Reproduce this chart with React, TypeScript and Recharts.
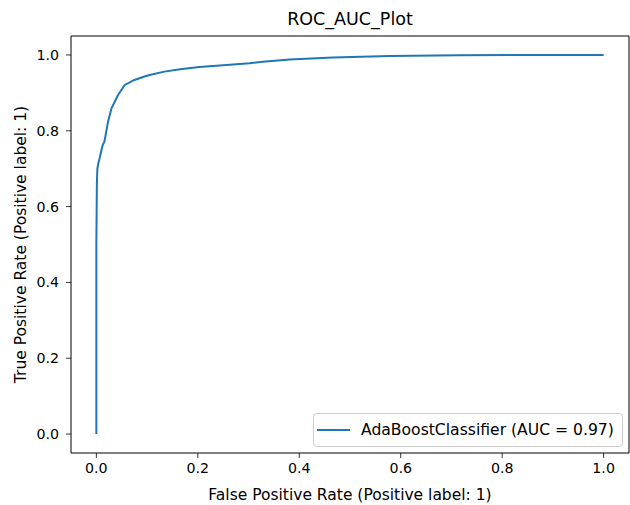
import { LineChart, Line, XAxis, YAxis, Legend, ReferenceArea } from "recharts";

// ROC curve points
const fpr = [
  0, 0, 0.001, 0.002, 0.004, 0.0065, 0.012, 0.016, 0.023, 0.03, 0.043, 0.056, 0.075,
  0.095, 0.105, 0.134, 0.165, 0.203, 0.25, 0.302, 0.328, 0.381, 0.466, 0.578, 0.715,
  0.85, 1.0,
];
const tpr = [
  0, 0.5, 0.66, 0.7, 0.715, 0.728, 0.76, 0.772, 0.824, 0.86, 0.895, 0.921, 0.934,
  0.943, 0.947, 0.956, 0.962, 0.968, 0.973, 0.978, 0.982, 0.988, 0.993, 0.997, 0.999,
  1.0, 1.0,
];
const ticks = [0, 0.2, 0.4, 0.6, 0.8, 1.0];

const seriesName = "AdaBoostClassifier (AUC = 0.97)";
const title = "ROC_AUC_Plot";
const xLabel = "False Positive Rate (Positive label: 1)";
const yLabel = "True Positive Rate (Positive label: 1)";

const data = fpr.map((x, i) => ({ fpr: x, tpr: tpr[i] }));

const FONT = "'DejaVu Sans', sans-serif";
const tickStyle = { fontSize: 14.2, fill: "#000", fontFamily: FONT };
const labelStyle = { fontSize: 15.5, fill: "#000", fontFamily: FONT };

function LegendBox() {
  return (
    <div
      style={{
        boxSizing: "border-box",
        width: 310,
        height: 34,
        border: "1px solid #cccccc",
        borderRadius: 4,
        background: "rgba(255,255,255,0.8)",
        display: "flex",
        alignItems: "center",
        fontFamily: FONT,
        fontSize: 15.6,
        color: "#000",
      }}
    >
      <svg width={33} height={4} style={{ marginLeft: 3 }}>
        <line x1={0} x2={33} y1={2} y2={2} stroke="#1f77b4" strokeWidth={2} />
      </svg>
      <span style={{ marginLeft: 11, whiteSpace: "nowrap" }}>{seriesName}</span>
    </div>
  );
}

export default function App() {
  return (
    <div style={{ position: "absolute", left: 0, top: 0, width: 630, height: 505, background: "#fff" }}>
      <div
        style={{
          position: "absolute",
          left: 71,
          width: 558,
          top: 9,
          textAlign: "center",
          fontFamily: FONT,
          fontSize: 17.5,
          color: "#000",
          lineHeight: "21px",
        }}
      >
        {title}
      </div>
      <LineChart width={630} height={505} data={data} margin={{ top: 36, right: 1, bottom: 0, left: 0 }}>
        <XAxis
          dataKey="fpr"
          type="number"
          domain={[-0.05, 1.05]}
          allowDataOverflow
          ticks={ticks}
          tickFormatter={(v: number) => v.toFixed(1)}
          tick={tickStyle}
          tickSize={5}
          tickMargin={5}
          height={52}
          axisLine={false}
          tickLine={{ stroke: "#000", strokeWidth: 0.8 }}
          label={{ value: xLabel, position: "insideBottom", offset: 5, style: labelStyle }}
        />
        <YAxis
          dataKey="tpr"
          type="number"
          domain={[-0.05, 1.05]}
          allowDataOverflow
          ticks={ticks}
          tickFormatter={(v: number) => v.toFixed(1)}
          tick={tickStyle}
          tickSize={5}
          tickMargin={7}
          width={71}
          axisLine={false}
          tickLine={{ stroke: "#000", strokeWidth: 0.8 }}
          label={{ value: yLabel, angle: -90, position: "center", dx: -15, style: { ...labelStyle, textAnchor: "middle" } }}
        />
        <ReferenceArea
          x1={-0.05}
          x2={1.05}
          y1={-0.05}
          y2={1.05}
          fill="none"
          stroke="#000"
          strokeWidth={1}
          ifOverflow="visible"
        />
        <Line
          dataKey="tpr"
          name={seriesName}
          type="linear"
          stroke="#1f77b4"
          strokeWidth={2}
          dot={false}
          isAnimationActive={false}
        />
        <Legend
          layout="horizontal"
          verticalAlign="middle"
          align="center"
          content={() => <LegendBox />}
          wrapperStyle={{ position: "absolute", left: 313, top: 413, width: 310, height: 34 }}
        />
      </LineChart>
    </div>
  );
}
